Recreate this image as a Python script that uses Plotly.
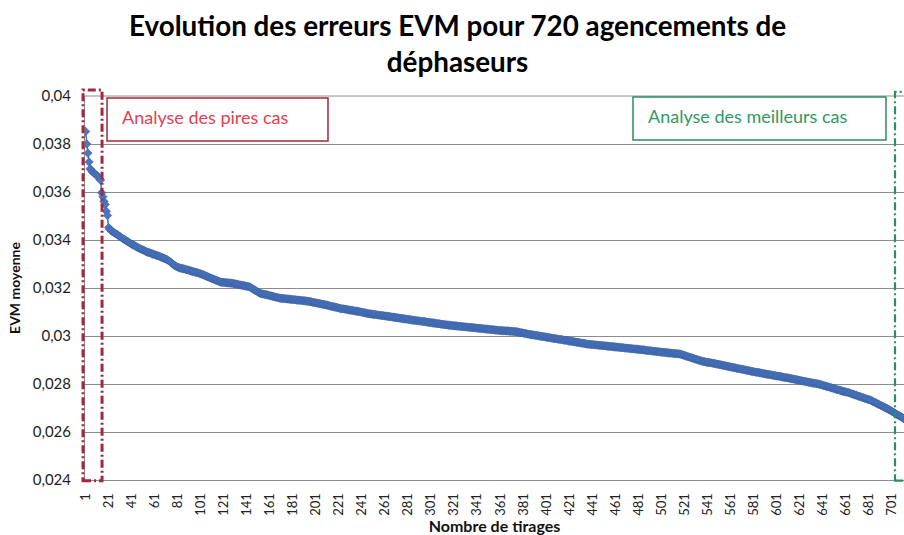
import plotly.graph_objects as go

# Mean EVM for each of the 720 phase-shifter arrangements, sorted from worst to best
evm_moyenne = [
    0.03852, 0.03800, 0.03762, 0.03725, 0.03697, 0.03690, 0.03684, 0.03680, 0.03676, 0.03672,
    0.03668, 0.03662, 0.03655, 0.03650, 0.03597, 0.03580, 0.03560, 0.03548, 0.03520, 0.03502,
    0.03452, 0.03445, 0.03440, 0.03436, 0.03433, 0.03430, 0.03427, 0.03424, 0.03421, 0.03417,
    0.03414, 0.03410, 0.03407, 0.03404, 0.03401, 0.03398, 0.03395, 0.03392, 0.03389, 0.03386,
    0.03383, 0.03380, 0.03378, 0.03375, 0.03372, 0.03370, 0.03367, 0.03365, 0.03362, 0.03360,
    0.03358, 0.03356, 0.03353, 0.03351, 0.03349, 0.03348, 0.03346, 0.03344, 0.03342, 0.03341,
    0.03339, 0.03337, 0.03335, 0.03334, 0.03332, 0.03330, 0.03328, 0.03326, 0.03324, 0.03322,
    0.03320, 0.03317, 0.03314, 0.03311, 0.03307, 0.03303, 0.03299, 0.03295, 0.03292, 0.03289,
    0.03287, 0.03285, 0.03283, 0.03282, 0.03281, 0.03280, 0.03279, 0.03277, 0.03276, 0.03275,
    0.03273, 0.03272, 0.03270, 0.03269, 0.03268, 0.03266, 0.03265, 0.03264, 0.03262, 0.03261,
    0.03259, 0.03257, 0.03255, 0.03253, 0.03251, 0.03249, 0.03247, 0.03245, 0.03243, 0.03241,
    0.03239, 0.03237, 0.03235, 0.03233, 0.03231, 0.03229, 0.03227, 0.03225, 0.03224, 0.03224,
    0.03223, 0.03223, 0.03222, 0.03222, 0.03221, 0.03221, 0.03220, 0.03220, 0.03219, 0.03218,
    0.03217, 0.03216, 0.03215, 0.03214, 0.03213, 0.03212, 0.03211, 0.03210, 0.03209, 0.03208,
    0.03207, 0.03206, 0.03205, 0.03203, 0.03200, 0.03197, 0.03194, 0.03191, 0.03188, 0.03185,
    0.03182, 0.03179, 0.03177, 0.03176, 0.03175, 0.03174, 0.03173, 0.03172, 0.03171, 0.03170,
    0.03168, 0.03167, 0.03166, 0.03165, 0.03163, 0.03162, 0.03161, 0.03160, 0.03158, 0.03157,
    0.03157, 0.03156, 0.03156, 0.03155, 0.03155, 0.03154, 0.03154, 0.03153, 0.03153, 0.03152,
    0.03152, 0.03151, 0.03151, 0.03150, 0.03150, 0.03149, 0.03149, 0.03148, 0.03148, 0.03147,
    0.03147, 0.03146, 0.03145, 0.03145, 0.03144, 0.03143, 0.03142, 0.03141, 0.03140, 0.03139,
    0.03138, 0.03137, 0.03136, 0.03135, 0.03134, 0.03133, 0.03132, 0.03131, 0.03130, 0.03129,
    0.03128, 0.03127, 0.03125, 0.03124, 0.03123, 0.03122, 0.03121, 0.03120, 0.03119, 0.03118,
    0.03116, 0.03115, 0.03114, 0.03113, 0.03113, 0.03112, 0.03111, 0.03110, 0.03109, 0.03108,
    0.03108, 0.03107, 0.03106, 0.03105, 0.03104, 0.03103, 0.03103, 0.03102, 0.03101, 0.03100,
    0.03099, 0.03098, 0.03097, 0.03096, 0.03095, 0.03094, 0.03093, 0.03092, 0.03092, 0.03091,
    0.03090, 0.03090, 0.03089, 0.03088, 0.03087, 0.03087, 0.03086, 0.03085, 0.03085, 0.03084,
    0.03083, 0.03083, 0.03082, 0.03081, 0.03081, 0.03080, 0.03079, 0.03078, 0.03078, 0.03077,
    0.03076, 0.03076, 0.03075, 0.03074, 0.03073, 0.03073, 0.03072, 0.03071, 0.03071, 0.03070,
    0.03069, 0.03069, 0.03068, 0.03067, 0.03066, 0.03066, 0.03065, 0.03064, 0.03064, 0.03063,
    0.03062, 0.03062, 0.03061, 0.03060, 0.03060, 0.03059, 0.03058, 0.03057, 0.03057, 0.03056,
    0.03055, 0.03055, 0.03054, 0.03053, 0.03053, 0.03052, 0.03051, 0.03051, 0.03050, 0.03049,
    0.03049, 0.03048, 0.03047, 0.03047, 0.03046, 0.03045, 0.03045, 0.03044, 0.03044, 0.03043,
    0.03043, 0.03042, 0.03042, 0.03041, 0.03041, 0.03040, 0.03040, 0.03039, 0.03039, 0.03038,
    0.03038, 0.03037, 0.03037, 0.03036, 0.03036, 0.03035, 0.03035, 0.03034, 0.03034, 0.03033,
    0.03033, 0.03032, 0.03032, 0.03031, 0.03031, 0.03030, 0.03030, 0.03029, 0.03029, 0.03028,
    0.03028, 0.03027, 0.03027, 0.03026, 0.03026, 0.03025, 0.03025, 0.03024, 0.03024, 0.03023,
    0.03023, 0.03023, 0.03022, 0.03022, 0.03022, 0.03021, 0.03021, 0.03021, 0.03020, 0.03020,
    0.03020, 0.03019, 0.03019, 0.03018, 0.03018, 0.03017, 0.03016, 0.03015, 0.03014, 0.03013,
    0.03012, 0.03011, 0.03010, 0.03009, 0.03008, 0.03007, 0.03006, 0.03005, 0.03005, 0.03004,
    0.03003, 0.03002, 0.03002, 0.03001, 0.03000, 0.02999, 0.02998, 0.02998, 0.02997, 0.02996,
    0.02995, 0.02994, 0.02994, 0.02993, 0.02992, 0.02991, 0.02990, 0.02990, 0.02989, 0.02988,
    0.02987, 0.02986, 0.02986, 0.02985, 0.02984, 0.02983, 0.02982, 0.02982, 0.02981, 0.02980,
    0.02979, 0.02978, 0.02978, 0.02977, 0.02976, 0.02975, 0.02974, 0.02974, 0.02973, 0.02972,
    0.02971, 0.02970, 0.02970, 0.02969, 0.02968, 0.02967, 0.02966, 0.02966, 0.02965, 0.02965,
    0.02964, 0.02964, 0.02963, 0.02963, 0.02962, 0.02962, 0.02961, 0.02961, 0.02960, 0.02960,
    0.02959, 0.02959, 0.02958, 0.02958, 0.02957, 0.02957, 0.02956, 0.02956, 0.02955, 0.02955,
    0.02954, 0.02954, 0.02953, 0.02953, 0.02952, 0.02952, 0.02951, 0.02951, 0.02950, 0.02950,
    0.02949, 0.02949, 0.02948, 0.02948, 0.02947, 0.02947, 0.02946, 0.02946, 0.02945, 0.02945,
    0.02944, 0.02944, 0.02943, 0.02943, 0.02942, 0.02942, 0.02941, 0.02940, 0.02940, 0.02939,
    0.02939, 0.02938, 0.02937, 0.02937, 0.02936, 0.02936, 0.02935, 0.02934, 0.02934, 0.02933,
    0.02933, 0.02932, 0.02932, 0.02931, 0.02931, 0.02930, 0.02930, 0.02929, 0.02929, 0.02928,
    0.02928, 0.02927, 0.02927, 0.02926, 0.02926, 0.02925, 0.02925, 0.02923, 0.02922, 0.02920,
    0.02919, 0.02917, 0.02915, 0.02914, 0.02912, 0.02911, 0.02909, 0.02908, 0.02906, 0.02904,
    0.02903, 0.02901, 0.02900, 0.02898, 0.02897, 0.02895, 0.02894, 0.02893, 0.02892, 0.02891,
    0.02890, 0.02890, 0.02889, 0.02888, 0.02887, 0.02886, 0.02885, 0.02884, 0.02883, 0.02882,
    0.02881, 0.02880, 0.02879, 0.02878, 0.02877, 0.02876, 0.02875, 0.02874, 0.02873, 0.02872,
    0.02871, 0.02870, 0.02869, 0.02868, 0.02867, 0.02866, 0.02865, 0.02864, 0.02863, 0.02862,
    0.02861, 0.02860, 0.02859, 0.02858, 0.02857, 0.02856, 0.02855, 0.02854, 0.02853, 0.02852,
    0.02851, 0.02850, 0.02849, 0.02849, 0.02848, 0.02847, 0.02846, 0.02845, 0.02844, 0.02843,
    0.02842, 0.02841, 0.02841, 0.02840, 0.02839, 0.02838, 0.02837, 0.02836, 0.02835, 0.02834,
    0.02833, 0.02833, 0.02832, 0.02831, 0.02830, 0.02829, 0.02828, 0.02827, 0.02826, 0.02826,
    0.02825, 0.02824, 0.02823, 0.02822, 0.02821, 0.02820, 0.02819, 0.02818, 0.02817, 0.02816,
    0.02815, 0.02814, 0.02813, 0.02812, 0.02811, 0.02810, 0.02809, 0.02808, 0.02807, 0.02806,
    0.02805, 0.02804, 0.02803, 0.02803, 0.02802, 0.02801, 0.02800, 0.02799, 0.02798, 0.02796,
    0.02795, 0.02793, 0.02792, 0.02790, 0.02789, 0.02788, 0.02786, 0.02785, 0.02783, 0.02782,
    0.02780, 0.02779, 0.02777, 0.02776, 0.02775, 0.02773, 0.02772, 0.02770, 0.02769, 0.02768,
    0.02767, 0.02766, 0.02764, 0.02763, 0.02761, 0.02759, 0.02758, 0.02756, 0.02754, 0.02753,
    0.02751, 0.02749, 0.02748, 0.02746, 0.02744, 0.02743, 0.02741, 0.02739, 0.02738, 0.02736,
    0.02735, 0.02733, 0.02731, 0.02728, 0.02726, 0.02724, 0.02721, 0.02719, 0.02716, 0.02714,
    0.02711, 0.02709, 0.02707, 0.02704, 0.02702, 0.02699, 0.02697, 0.02694, 0.02692, 0.02689,
    0.02686, 0.02683, 0.02680, 0.02677, 0.02674, 0.02671, 0.02669, 0.02666, 0.02663, 0.02660,
    0.02657, 0.02653, 0.02649, 0.02644, 0.02639, 0.02633, 0.02626, 0.02618, 0.02609, 0.02598,
]
tirages = list(range(1, len(evm_moyenne) + 1))

# Axis ticks
x_ticks = list(range(1, 702, 20))
x_tick_labels = [str(v) for v in x_ticks]
y_ticks = [0.024, 0.026, 0.028, 0.030, 0.032, 0.034, 0.036, 0.038, 0.040]
y_tick_labels = ["0,024", "0,026", "0,028", "0,03", "0,032", "0,034", "0,036", "0,038", "0,04"]

# Highlighted zones (in draw index units)
worst_zone = (-1.2, 15.3)
best_zone = (703.6, 730.0)
worst_label = "Analyse des pires cas"
best_label = "Analyse des meilleurs cas"
title_text = "<b>Evolution des erreurs EVM pour 720 agencements de<br>déphaseurs</b>"

X_RANGE = (0.5, 711.4)
Y_RANGE = (0.024, 0.040)


def xp(v):
    """Index value -> paper fraction along the x axis."""
    return (v - X_RANGE[0]) / (X_RANGE[1] - X_RANGE[0])


def yp(v):
    return (v - Y_RANGE[0]) / (Y_RANGE[1] - Y_RANGE[0])


FONT = "Lato, 'Open Sans', sans-serif"
RED_FRAME = "#a3283a"
RED_TEXT = "#e2404f"
GREEN_FRAME = "#2a8f5c"
GREEN_TEXT = "#2f9a62"
GRID = "#8c8c8c"

fig = go.Figure()
fig.add_trace(go.Scatter(
    x=tirages, y=evm_moyenne,
    mode="lines+markers",
    line=dict(color="#4a6fb8", width=1.5),
    marker=dict(symbol="diamond", size=6.5, color="#4a78c4",
                line=dict(color="#3a5c9c", width=0.6)),
    showlegend=False,
    hoverinfo="x+y",
))

shapes = [
    # top grid line at 0,04
    dict(type="line", xref="paper", yref="paper", x0=0, x1=1, y0=1, y1=1,
         line=dict(color=GRID, width=1), layer="below"),
    # worst-cases dash-dot frame
    dict(type="rect", xref="paper", yref="paper",
         x0=xp(worst_zone[0]), x1=xp(worst_zone[1]),
         y0=yp(0.02397), y1=yp(0.04025),
         line=dict(color=RED_FRAME, width=3, dash="8px,3px,2px,3px"),
         fillcolor="rgba(0,0,0,0)", layer="above"),
    # best-cases dash-dot frame
    dict(type="rect", xref="paper", yref="paper",
         x0=xp(best_zone[0]), x1=xp(best_zone[1]),
         y0=yp(0.02397), y1=yp(0.04017),
         line=dict(color=GREEN_FRAME, width=2.2, dash="8px,3px,2px,3px"),
         fillcolor="rgba(0,0,0,0)", layer="above"),
    # label boxes
    dict(type="rect", xref="paper", yref="paper",
         x0=0.0269, x1=0.2967, y0=0.8828, y1=0.9948,
         line=dict(color=RED_FRAME, width=1.5), fillcolor="white", layer="above"),
    dict(type="rect", xref="paper", yref="paper",
         x0=0.6691, x1=0.978, y0=0.8854, y1=0.9974,
         line=dict(color=GREEN_FRAME, width=1.5), fillcolor="white", layer="above"),
]

annotations = [
    dict(text=title_text, xref="paper", yref="paper", x=0.4545, y=1.232,
         xanchor="center", yanchor="top", showarrow=False, align="center",
         font=dict(family=FONT, size=27.8, color="black")),
    dict(text=worst_label, xref="paper", yref="paper", x=0.043, y=0.945,
         xanchor="left", yanchor="middle", showarrow=False,
         font=dict(family=FONT, size=18, color=RED_TEXT)),
    dict(text=best_label, xref="paper", yref="paper", x=0.685, y=0.948,
         xanchor="left", yanchor="middle", showarrow=False,
         font=dict(family=FONT, size=18, color=GREEN_TEXT)),
]

fig.update_layout(
    width=904, height=535,
    margin=dict(l=85, r=0, t=96, b=55),
    paper_bgcolor="white", plot_bgcolor="white",
    font=dict(family=FONT, color="#1a1a1a"),
    xaxis=dict(
        range=list(X_RANGE),
        tickmode="array", tickvals=x_ticks, ticktext=x_tick_labels,
        tickangle=-90, tickfont=dict(size=13, color="#222"),
        ticklabelstandoff=7,
        showgrid=False, zeroline=False,
        showline=True, linecolor=GRID, linewidth=1,
        ticks="", ticklen=0,
        title=dict(text="<b>Nombre de tirages</b>", font=dict(size=16, color="#111"), standoff=2),
    ),
    yaxis=dict(
        range=list(Y_RANGE),
        tickmode="array", tickvals=y_ticks, ticktext=y_tick_labels,
        tickfont=dict(size=15, color="#222"),
        ticklabelstandoff=10,
        showgrid=True, gridcolor=GRID, gridwidth=1,
        zeroline=False,
        showline=True, linecolor=GRID, linewidth=1,
        ticks="", ticklen=0,
        title=dict(text="<b>EVM moyenne</b>", font=dict(size=14, color="#111"), standoff=8),
    ),
    shapes=shapes,
    annotations=annotations,
)

fig.write_html("out.html")
